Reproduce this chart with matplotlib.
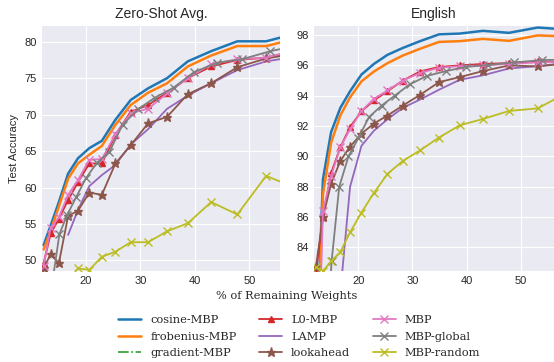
import matplotlib
matplotlib.use("Agg")
import matplotlib.pyplot as plt

# % of remaining weights (most methods)
x = [12.2, 13.5, 15.0, 16.7, 18.5, 20.6, 22.9, 25.4, 28.2, 31.4, 34.9, 38.7, 43.0, 47.8, 53.1, 59.0]
# MBP-global sits slightly to the right
x_global = [13.8, 15.1, 16.5, 18.2, 20.0, 22.0, 24.3, 26.7, 29.5, 32.6, 36.1, 39.8, 44.0, 48.7, 53.9, 59.7]
# LAMP starts later
x_lamp = [16.7, 18.5, 20.6, 22.9, 25.4, 28.2, 31.4, 34.9, 38.7, 43.0, 47.8, 53.1, 59.0]

#%% Zero-Shot Avg.
zs_cosine = [52.1, 54.8, 58.0, 61.9, 64.0, 65.4, 66.4, 69.3, 72.0, 73.6, 75.0, 77.3, 78.7, 80.05, 80.05, 81.2]
zs_frob = [51.5, 54.1, 57.4, 61.2, 63.3, 64.5, 65.7, 68.6, 71.3, 73.0, 74.3, 76.6, 78.1, 79.4, 79.4, 80.5]
zs_grad = []
zs_l0 = [49.6, 53.7, 55.7, 58.3, 60.7, 63.3, 63.3, 67.2, 70.4, 71.3, 73.0, 75.0, 76.6, 77.5, 77.8, 78.8]
zs_lamp = [53.5, 56.9, 60.2, 61.7, 63.1, 65.9, 68.0, 70.8, 72.6, 74.3, 76.1, 77.3, 78.0]
zs_lookahead = [48.9, 50.9, 49.6, 56.1, 56.8, 59.3, 59.0, 63.3, 65.8, 68.8, 69.7, 72.8, 74.3, 76.5, 77.7, 78.4]
zs_mbp = [49.3, 54.5, 55.9, 59.0, 61.0, 63.8, 63.9, 67.3, 70.2, 70.8, 72.9, 75.0, 76.9, 77.6, 77.8, 79.0]
zs_global = [47.0, 53.6, 56.2, 58.7, 61.3, 63.4, 64.9, 68.6, 70.7, 72.3, 73.7, 75.8, 77.1, 77.6, 78.7, 79.6]
zs_random = [40.0, 43.0, 45.5, 47.5, 48.9, 48.7, 50.5, 51.2, 52.5, 52.5, 54.0, 55.1, 58.0, 56.3, 61.6, 59.8]

#%% English
en_cosine = [76.0, 88.5, 91.6, 93.2, 94.3, 95.4, 96.1, 96.7, 97.15, 97.6, 98.05, 98.1, 98.28, 98.15, 98.5, 98.35]
en_frob = [75.0, 87.5, 90.9, 92.7, 93.9, 94.95, 95.6, 96.15, 96.65, 97.1, 97.55, 97.6, 97.75, 97.62, 97.98, 97.9]
en_grad = []
en_l0 = [82.3, 86.0, 88.9, 90.6, 91.95, 92.97, 93.7, 94.3, 95.0, 95.6, 95.9, 96.0, 96.1, 96.15, 96.27, 96.2]
en_lamp = [81.0, 88.0, 90.7, 91.7, 92.45, 93.2, 93.75, 94.4, 95.05, 95.35, 95.8, 95.95, 96.2]
en_lookahead = [82.7, 86.0, 88.2, 89.7, 90.65, 91.5, 92.17, 92.7, 93.35, 94.06, 94.9, 95.23, 95.63, 96.0, 95.94, 96.15]
en_mbp = [70.0, 86.4, 88.7, 90.6, 91.8, 93.0, 93.8, 94.35, 95.0, 95.5, 95.85, 95.95, 96.0, 96.1, 96.2, 96.25]
en_global = [76.0, 83.1, 88.0, 90.0, 91.2, 92.6, 93.35, 94.0, 94.75, 95.3, 95.62, 95.9, 96.03, 96.2, 96.35, 96.4]
en_random = [82.7, 82.45, 83.1, 83.7, 85.0, 86.3, 87.6, 88.85, 89.7, 90.4, 91.25, 92.05, 92.47, 93.0, 93.17, 94.3]

plt.style.use("seaborn-v0_8-darkgrid")
plt.rcParams["font.family"] = ["Liberation Sans", "DejaVu Sans"]

W, H = 554, 362
fig = plt.figure(figsize=(W / 100, H / 100), dpi=100)


def box(l, t, r, b):
    return [l / W, 1 - b / H, (r - l) / W, (b - t) / H]


ax1 = fig.add_axes(box(42, 26, 280, 271))
ax2 = fig.add_axes(box(314, 26, 554, 271))


def draw(ax, cos, frob, grad, l0, lamp, look, mbp, glob, rnd):
    ax.plot(x, cos, color="C0", lw=1.8, label="cosine-MBP")
    ax.plot(x, frob, color="C1", lw=1.8, label="frobenius-MBP")
    ax.plot(x[:len(grad)], grad, color="C2", lw=1.2, ls="-.", label="gradient-MBP")
    ax.plot(x, l0, color="C3", lw=1.3, marker="^", ms=5, label="L0-MBP")
    ax.plot(x_lamp, lamp, color="C4", lw=1.3, label="LAMP")
    ax.plot(x, look, color="C5", lw=1.3, marker="*", ms=6.5, label="lookahead")
    ax.plot(x, mbp, color="C6", lw=1.3, marker="x", ms=5.5, label="MBP")
    ax.plot(x_global, glob, color="C7", lw=1.3, marker="x", ms=5.5, label="MBP-global")
    ax.plot(x, rnd, color="C8", lw=1.3, marker="x", ms=5.5, label="MBP-random")
    ax.set_xticks([20, 30, 40, 50])
    ax.tick_params(labelsize=8)


draw(ax1, zs_cosine, zs_frob, zs_grad, zs_l0, zs_lamp, zs_lookahead, zs_mbp, zs_global, zs_random)
draw(ax2, en_cosine, en_frob, en_grad, en_l0, en_lamp, en_lookahead, en_mbp, en_global, en_random)

ax1.set_xlim(11.9, 55.65)
ax1.set_ylim(48.55, 82.15)
ax1.set_yticks([50, 55, 60, 65, 70, 75, 80])
ax1.set_title("Zero-Shot Avg.", fontsize=10)
ax1.set_ylabel("Test Accuracy", fontsize=8)

ax2.set_xlim(11.85, 56.1)
ax2.set_ylim(82.45, 98.6)
ax2.set_yticks([84, 86, 88, 90, 92, 94, 96, 98])
ax2.set_title("English", fontsize=10)

fig.text(287 / W, 1 - 296 / H, "% of Remaining Weights", ha="center", va="center",
         family="DejaVu Serif", fontsize=8.2)

handles, labels = ax1.get_legend_handles_labels()
fig.legend(handles, labels, ncol=3, loc="upper left", bbox_to_anchor=(108 / W, 1 - 305 / H),
           frameon=False, prop={"family": "DejaVu Serif", "size": 8.2}, labelspacing=0.55)

fig.savefig("out.png", dpi=100)
